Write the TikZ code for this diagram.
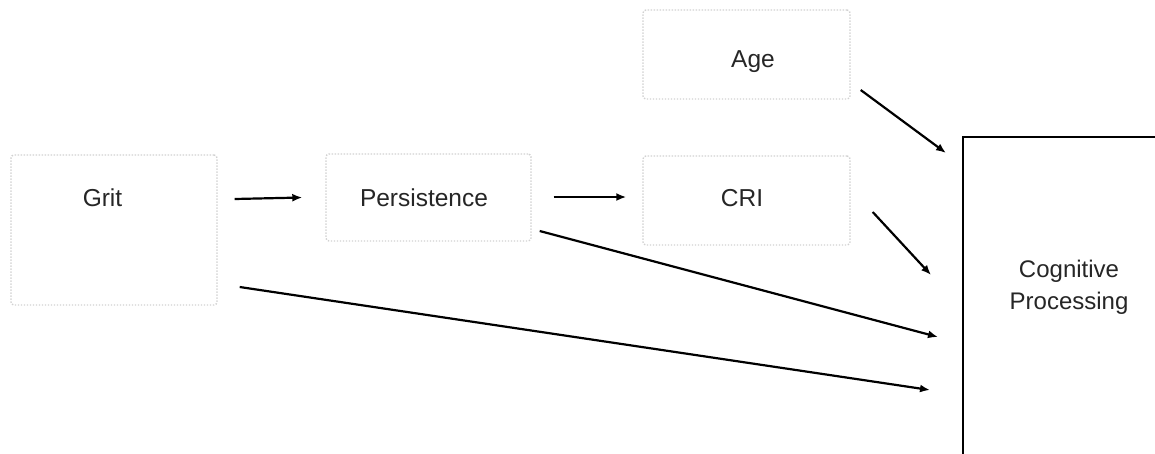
\documentclass[tikz,border=0pt]{standalone}
\usepackage{fontspec}
\setmainfont{Liberation Sans}
\usetikzlibrary{arrows.meta}
\begin{document}
\begin{tikzpicture}[x=1pt,y=-1pt,
  varbox/.style={draw=black!18, line width=1.4pt, dash pattern=on 1.4pt off 1.6pt,
    rounded corners=3pt, inner sep=0pt},
  lbl/.style={font=\fontsize{24.5}{29}\selectfont, text=black!85, inner sep=0pt},
  path/.style={line width=2.2pt, -{Latex[length=10pt,width=8pt]}}]
\useasboundingbox (0,0) rectangle (1155,453);
\fill[white] (0,0) rectangle (1155,453);

% predictor boxes
\node[varbox, minimum width=206, minimum height=150] (grit) at (114,230) {};
\node[varbox, minimum width=205, minimum height=87] (pers) at (428.5,197.5) {};
\node[varbox, minimum width=207, minimum height=89] (age) at (746.5,54.5) {};
\node[varbox, minimum width=207, minimum height=89] (cri) at (746.5,200.5) {};

\node[lbl] (gritt) at (102.5,198) {Grit};
\node[lbl] (perst) at (424,198) {Persistence};
\node[lbl] (aget) at (753,62) {Age};
\node[lbl] (crit) at (742,198) {CRI};

% outcome box, running off the page
\begin{scope}
\clip (0,0) rectangle (1155,453);
\node[draw, line width=2.4pt, minimum width=220, minimum height=360, inner sep=0pt,
  anchor=north west] (cp) at (962,136) {};
\end{scope}
\node[lbl, align=center, font=\fontsize{24}{32}\selectfont] (cpt) at (1069,287) {Cognitive\\Processing};

% paths
\draw[path] ([shift={(17,-31)}]grit.east) -- ([shift={(-23,0)}]pers.west);
\draw[path] ([shift={(22,-0.5)}]pers.east) -- ([shift={(-16,-3.5)}]cri.west);
\draw[path] ([shift={(10,35.5)}]age.east) -- ([shift={(-16,17)}]cp.north west);
\draw[path] ([shift={(22,11.5)}]cri.east) -- ([shift={(-31,139)}]cp.north west);
\draw[path] ([shift={(8,33.5)}]pers.east) -- ([shift={(-24,201)}]cp.north west);
\draw[path] ([shift={(22,57)}]grit.east) -- ([shift={(-32,254)}]cp.north west);
\end{tikzpicture}
\end{document}
